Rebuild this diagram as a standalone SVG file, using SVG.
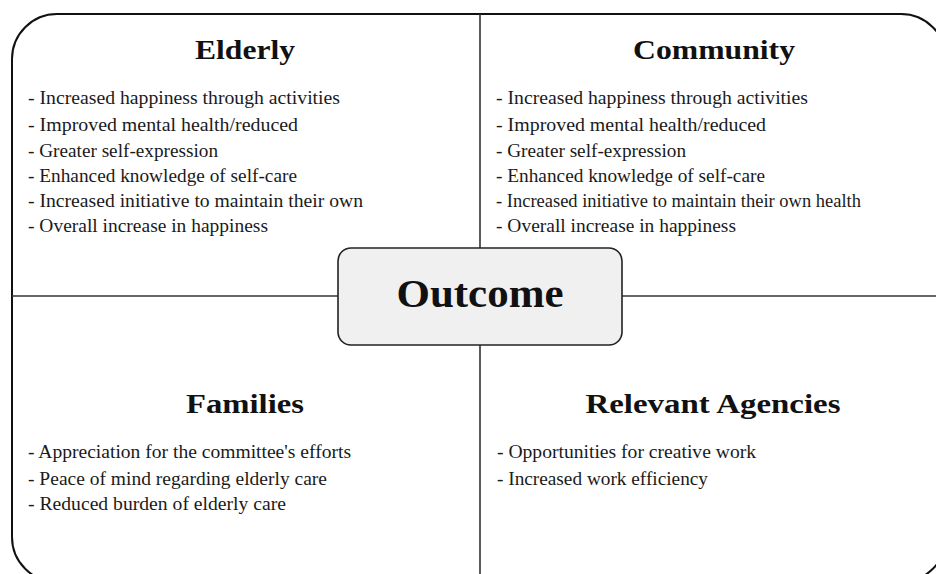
<svg xmlns="http://www.w3.org/2000/svg" width="936" height="574" viewBox="0 0 936 574">
  <style>
    .frame { fill: #ffffff; stroke: #111111; stroke-width: 2; }
    .divider { stroke: #333333; stroke-width: 1.6; fill: none; }
    .center-box { fill: #f0f0f0; stroke: #222222; stroke-width: 1.6; }
    .title { font-family: "Liberation Serif", "Times New Roman", serif; font-weight: bold; font-size: 27px; fill: #111111; text-anchor: middle; }
    .item { font-family: "Liberation Serif", "Times New Roman", serif; font-size: 18.5px; fill: #1a1a1a; }
    .center-label { font-family: "Liberation Serif", "Times New Roman", serif; font-weight: bold; font-size: 39px; fill: #111111; text-anchor: middle; }
  </style>

  <rect width="936" height="574" fill="#ffffff"/>

  <!-- outer rounded frame, partly running past the canvas edges -->
  <rect class="frame" x="12" y="14" width="934" height="568" rx="45" ry="45"/>

  <!-- quadrant dividers -->
  <g id="connectors">
    <line class="divider" x1="480" y1="14" x2="480" y2="580"/>
    <line class="divider" x1="12" y1="296" x2="946" y2="296"/>
  </g>

  <g id="elderly">
    <text class="title" x="245" y="59" textLength="100" lengthAdjust="spacingAndGlyphs">Elderly</text>
    <text class="item" x="28" y="103.5" textLength="312" lengthAdjust="spacingAndGlyphs">- Increased happiness through activities</text>
    <text class="item" x="28" y="130.5" textLength="270" lengthAdjust="spacingAndGlyphs">- Improved mental health/reduced</text>
    <text class="item" x="28" y="156.5" textLength="190" lengthAdjust="spacingAndGlyphs">- Greater self-expression</text>
    <text class="item" x="28" y="181.5" textLength="269" lengthAdjust="spacingAndGlyphs">- Enhanced knowledge of self-care</text>
    <text class="item" x="28" y="206.5" textLength="335" lengthAdjust="spacingAndGlyphs">- Increased initiative to maintain their own</text>
    <text class="item" x="28" y="231.5" textLength="240" lengthAdjust="spacingAndGlyphs">- Overall increase in happiness</text>
  </g>

  <g id="community">
    <text class="title" x="714" y="59" textLength="162" lengthAdjust="spacingAndGlyphs">Community</text>
    <text class="item" x="496" y="103.5" textLength="312" lengthAdjust="spacingAndGlyphs">- Increased happiness through activities</text>
    <text class="item" x="496" y="130.5" textLength="270" lengthAdjust="spacingAndGlyphs">- Improved mental health/reduced</text>
    <text class="item" x="496" y="156.5" textLength="190" lengthAdjust="spacingAndGlyphs">- Greater self-expression</text>
    <text class="item" x="496" y="181.5" textLength="269" lengthAdjust="spacingAndGlyphs">- Enhanced knowledge of self-care</text>
    <text class="item" x="496" y="206.5" textLength="365" lengthAdjust="spacingAndGlyphs">- Increased initiative to maintain their own health</text>
    <text class="item" x="496" y="231.5" textLength="240" lengthAdjust="spacingAndGlyphs">- Overall increase in happiness</text>
  </g>

  <g id="families">
    <text class="title" x="245" y="413" textLength="118" lengthAdjust="spacingAndGlyphs">Families</text>
    <text class="item" x="28" y="458" textLength="323" lengthAdjust="spacingAndGlyphs">- Appreciation for the committee's efforts</text>
    <text class="item" x="28" y="484.5" textLength="299" lengthAdjust="spacingAndGlyphs">- Peace of mind regarding elderly care</text>
    <text class="item" x="28" y="510" textLength="258" lengthAdjust="spacingAndGlyphs">- Reduced burden of elderly care</text>
  </g>

  <g id="relevant-agencies">
    <text class="title" x="713" y="413" textLength="255" lengthAdjust="spacingAndGlyphs">Relevant Agencies</text>
    <text class="item" x="497" y="458" textLength="259" lengthAdjust="spacingAndGlyphs">- Opportunities for creative work</text>
    <text class="item" x="497" y="484.5" textLength="211" lengthAdjust="spacingAndGlyphs">- Increased work efficiency</text>
  </g>

  <g id="outcome">
    <rect class="center-box" x="338" y="248" width="284" height="97" rx="13" ry="13"/>
    <text class="center-label" x="480" y="307" textLength="167" lengthAdjust="spacingAndGlyphs">Outcome</text>
  </g>
</svg>
